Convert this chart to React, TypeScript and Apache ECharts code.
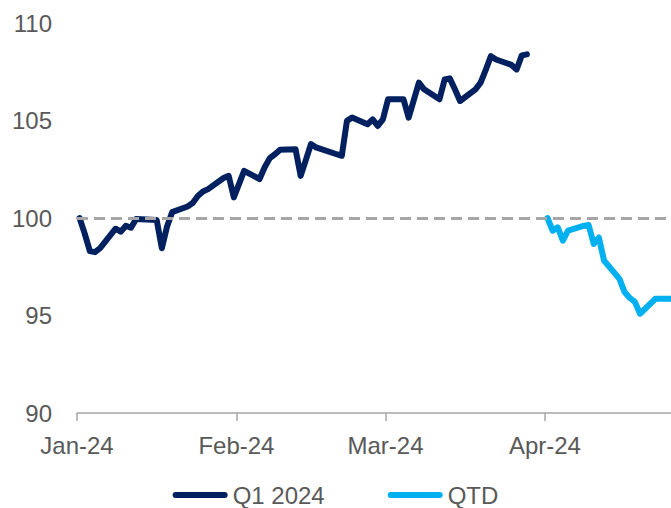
import React, { useEffect, useRef } from "react";
import * as echarts from "echarts";

// Q1 2024 index (base 100 = 1 Jan 2024)
const q1Dates = [
  "2024-01-01", "2024-01-02", "2024-01-03", "2024-01-04", "2024-01-05",
  "2024-01-08", "2024-01-09", "2024-01-10", "2024-01-11", "2024-01-12",
  "2024-01-16", "2024-01-17", "2024-01-18", "2024-01-19",
  "2024-01-22", "2024-01-23", "2024-01-24", "2024-01-25", "2024-01-26",
  "2024-01-29", "2024-01-30", "2024-01-31", "2024-02-01", "2024-02-02",
  "2024-02-05", "2024-02-06", "2024-02-07", "2024-02-08", "2024-02-09",
  "2024-02-12", "2024-02-13", "2024-02-14", "2024-02-15", "2024-02-16",
  "2024-02-20", "2024-02-21", "2024-02-22", "2024-02-23",
  "2024-02-26", "2024-02-27", "2024-02-28", "2024-02-29", "2024-03-01",
  "2024-03-04", "2024-03-05", "2024-03-06", "2024-03-07", "2024-03-08",
  "2024-03-11", "2024-03-12", "2024-03-13", "2024-03-14", "2024-03-15",
  "2024-03-18", "2024-03-19", "2024-03-20", "2024-03-21", "2024-03-22",
  "2024-03-25", "2024-03-26", "2024-03-27", "2024-03-28",
];
const q1Values = [
  100.0, 99.2, 98.3, 98.25, 98.45,
  99.45, 99.3, 99.6, 99.5, 99.95,
  99.9, 98.45, 99.55, 100.3,
  100.59, 100.77, 101.13, 101.36, 101.48,
  102.05, 102.16, 101.06, 101.74, 102.42,
  102.0, 102.6, 103.07, 103.27, 103.5,
  103.53, 102.16, 102.97, 103.79, 103.62,
  103.27, 103.19, 104.98, 105.15,
  104.81, 105.06, 104.72, 105.06, 106.09,
  106.09, 105.15, 106.04, 106.94, 106.6,
  106.09, 107.1, 107.16, 106.6, 106.0,
  106.6, 106.94, 107.6, 108.3, 108.13,
  107.85, 107.62, 108.34, 108.39,
];

// Quarter-to-date (base 100 = 1 Apr 2024)
const qtdDates = [
  "2024-04-01", "2024-04-02", "2024-04-03", "2024-04-04", "2024-04-05",
  "2024-04-08", "2024-04-09", "2024-04-10", "2024-04-11", "2024-04-12",
  "2024-04-15", "2024-04-16", "2024-04-17", "2024-04-18", "2024-04-19",
  "2024-04-22", "2024-04-23", "2024-04-24", "2024-04-25",
];
const qtdValues = [
  100.0, 99.35, 99.52, 98.84, 99.35,
  99.59, 99.64, 98.67, 99.0, 97.82,
  96.88, 96.2, 95.9, 95.7, 95.09,
  95.86, 95.86, 95.86, 95.86,
];

const seriesNames = ["Q1 2024", "QTD"];
const monthLabels = ["Jan", "Feb", "Mar", "Apr", "May", "Jun", "Jul", "Aug", "Sep", "Oct", "Nov", "Dec"];
const baseline = 100;

const toTime = (d: string) => {
  const [y, m, day] = d.split("-").map(Number);
  return new Date(y, m - 1, day, 12, 0, 0).getTime();
};

export default function App() {
  const ref = useRef<HTMLDivElement>(null);

  useEffect(() => {
    if (!ref.current) return;
    const chart = echarts.init(ref.current, null, { renderer: "svg" });
    const font = "'Liberation Sans', Arial, sans-serif";
    const capsule = "path://M3,0 H52 A3,3 0 0 1 52,6 H3 A3,3 0 0 1 3,0 Z";
    chart.setOption({
      animation: false,
      backgroundColor: "#ffffff",
      textStyle: { fontFamily: font },
      grid: { left: 77, right: -23, top: 23, bottom: 95, outerBoundsMode: "none", containLabel: false },
      legend: {
        data: seriesNames,
        top: 483,
        left: "center",
        padding: 0,
        icon: capsule,
        itemWidth: 55,
        itemHeight: 6,
        itemGap: 63,
        textStyle: { fontSize: 24, lineHeight: 24, color: "#595959", fontFamily: font },
      },
      xAxis: {
        type: "time",
        min: new Date(2024, 0, 1).getTime(),
        max: new Date(2024, 3, 30).getTime(),
        splitNumber: 4,
        minInterval: 28 * 86400000,
        axisLine: { show: true, lineStyle: { color: "#A6A6A6", width: 1.5 } },
        axisTick: { show: true, length: 8, lineStyle: { color: "#A6A6A6", width: 1.5 } },
        splitLine: { show: false },
        axisLabel: {
          fontSize: 24,
          color: "#595959",
          margin: 20,
          fontFamily: font,
          formatter: (v: number) => {
            const d = new Date(v);
            return monthLabels[d.getMonth()] + "-" + String(d.getFullYear()).slice(2);
          },
        },
      },
      yAxis: {
        type: "value",
        min: 90,
        max: 110,
        interval: 5,
        axisLine: { show: false },
        axisTick: { show: false },
        splitLine: { show: false },
        axisLabel: { fontSize: 24, color: "#595959", margin: 25, fontFamily: font },
      },
      series: [
        {
          name: seriesNames[0],
          type: "line",
          data: q1Dates.map((d, i) => [toTime(d), q1Values[i]]),
          showSymbol: false,
          symbol: "none",
          color: "#002060",
          lineStyle: { color: "#002060", width: 6, cap: "round", join: "round" },
          z: 2,
        },
        {
          name: seriesNames[1],
          type: "line",
          data: qtdDates.map((d, i) => [toTime(d), qtdValues[i]]),
          showSymbol: false,
          symbol: "none",
          color: "#00B0F0",
          lineStyle: { color: "#00B0F0", width: 6, cap: "round", join: "round" },
          z: 3,
          markLine: {
            silent: true,
            symbol: ["none", "none"],
            label: { show: false },
            z: 10,
            lineStyle: { color: "#A6A6A6", width: 3, type: [11, 6] },
            data: [{ yAxis: baseline }],
          },
        },
      ],
    });
    return () => chart.dispose();
  }, []);

  return (
    <div
      ref={ref}
      style={{ position: "fixed", left: 0, top: 0, width: 671, height: 508 }}
    />
  );
}
